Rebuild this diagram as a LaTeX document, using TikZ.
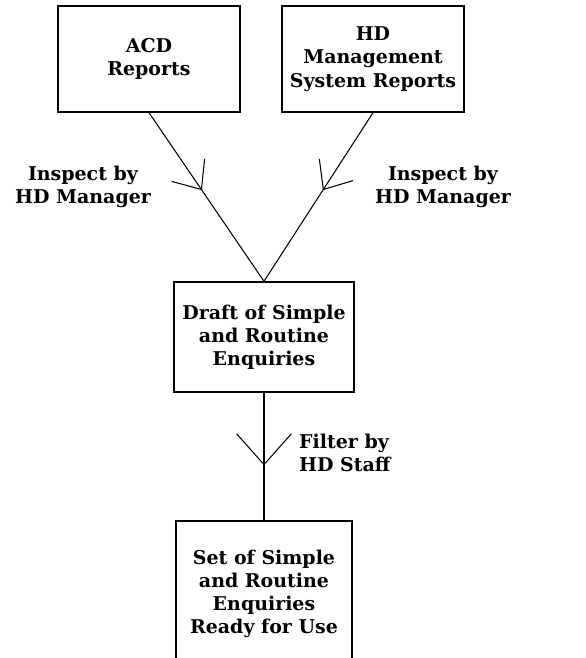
\documentclass[tikz,border=0pt]{standalone}
\usepackage{fontspec}
\setmainfont{DejaVu Serif}
\usetikzlibrary{arrows.meta,decorations.markings}
\tikzset{
	box/.style={draw,line width=0.8pt,align=center,font=\bfseries\fontsize{10.8}{13.2}\selectfont},
	lbl/.style={align=center,font=\bfseries\fontsize{10.8}{13.2}\selectfont},
	midarrow/.style={line width=0.6pt,postaction={decorate},
		decoration={markings,mark=at position #1 with {\arrow{Straight Barb[length=0.47cm,width=0.8cm,line width=0.6pt]}}}},
	longarrow/.style={line width=0.8pt,postaction={decorate},
		decoration={markings,mark=at position #1 with {\arrow{Straight Barb[length=0.62cm,width=1.1cm,line width=0.6pt]}}}}
}
\begin{document}
\begin{tikzpicture}
			\clip (0,0) rectangle (11.72,13.16);
			\fill [white](0,0) rectangle (11.72,13.16);
			
			% boxes
			\node [box,minimum width=3.64cm,minimum height=2.12cm](acd) at(2.98,11.98){ACD\\Reports};
			\node [box,minimum width=3.64cm,minimum height=2.12cm](hdms) at(7.46,11.98){HD\\Management\\System Reports};
			\node [box,minimum width=3.6cm,minimum height=2.2cm](draft) at(5.28,6.42){Draft of Simple\\and Routine\\Enquiries};
			\node [box,minimum width=3.52cm,minimum height=2.92cm](ready) at(5.28,1.28){Set of Simple\\and Routine\\Enquiries\\Ready for Use};
			
			% connectors
			\draw [midarrow=0.46](acd.south)--(draft.north);
			\draw [midarrow=0.46](hdms.south)--(draft.north);
			\draw [longarrow=0.57](draft.south)--(ready.north);
			
			% labels
			\node [lbl](inspa) at(1.66,9.42){Inspect by\\HD Manager};
			\node [lbl](inspb) at(8.86,9.42){Inspect by\\HD Manager};
			\node [lbl,align=left,anchor=west](filt) at(5.86,4.1){Filter by\\HD Staff};
			
		\end{tikzpicture}
\end{document}
